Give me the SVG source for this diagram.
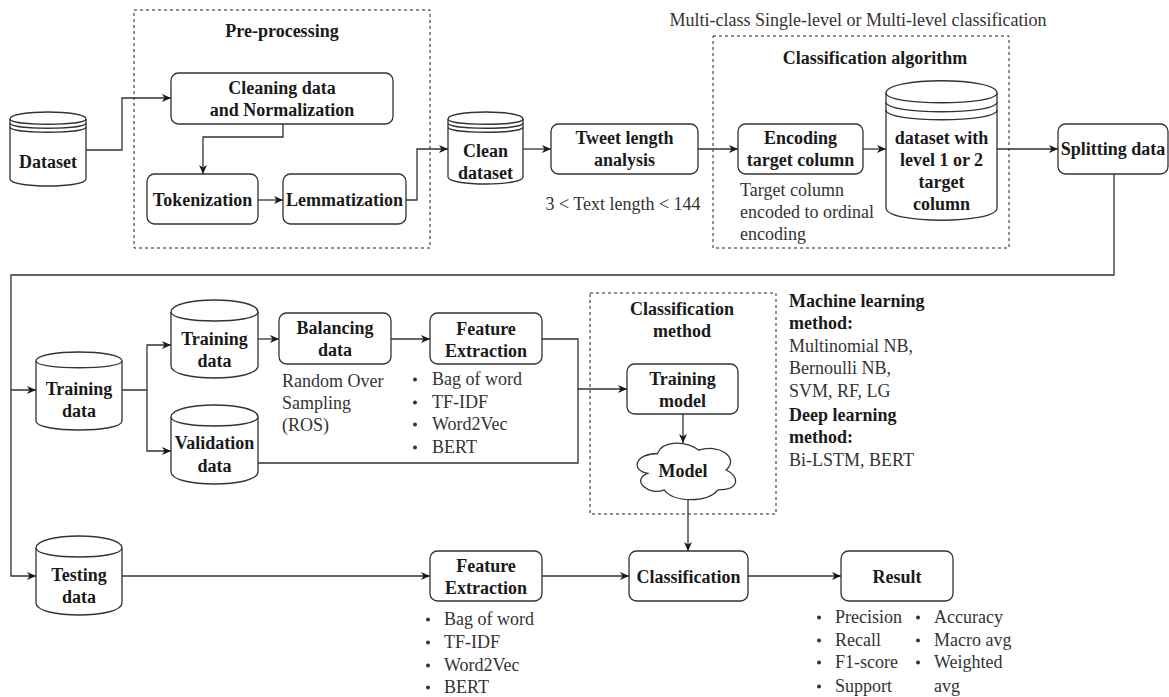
<svg xmlns="http://www.w3.org/2000/svg" width="1169" height="697" viewBox="0 0 1169 697">
<style>
text{font-family:"Liberation Serif","Times New Roman",serif;font-size:18px}
.b{font-weight:bold;fill:#1a1a1a;text-anchor:middle}
.r{fill:#333}
.c{text-anchor:middle}
.box{fill:#fff;stroke:#333;stroke-width:1.3}
.ln{fill:none;stroke:#333;stroke-width:1.3}
.dash{fill:none;stroke:#222;stroke-width:1;stroke-dasharray:3 3}
.con{fill:none;stroke:#333;stroke-width:1.3}
.dot{fill:#333}
</style>
<defs>
<marker id="arr" markerWidth="10" markerHeight="8" refX="9" refY="4" orient="auto" markerUnits="userSpaceOnUse"><path d="M0,0 L9,4 L0,8 L2.5,4 Z" fill="#1a1a1a"/></marker>
</defs>
<rect width="1169" height="697" fill="#fff"/>

<g id="preprocessing-group">
<rect class="dash" x="134" y="10" width="296" height="238"/>
<text class="b" x="282" y="37">Pre-processing</text>
</g>
<g id="classification-algorithm-group">
<rect class="dash" x="713" y="36" width="296" height="212"/>
<text class="b" x="875" y="64">Classification algorithm</text>
<text class="r c" x="858" y="26">Multi-class Single-level or Multi-level classification</text>
</g>
<g id="classification-method-group">
<rect class="dash" x="590" y="293" width="186" height="221"/>
<text class="b" x="682" y="315">Classification</text>
<text class="b" x="682" y="337">method</text>
</g>

<g id="connectors">
<path class="con" d="M86,150 H122 V98 H171" marker-end="url(#arr)"/>
<path class="con" d="M283,124 V137 H203 V174" marker-end="url(#arr)"/>
<path class="con" d="M258,200 H283" marker-end="url(#arr)"/>
<path class="con" d="M406,200 H417 V149 H448" marker-end="url(#arr)"/>
<path class="con" d="M523,149 H551" marker-end="url(#arr)"/>
<path class="con" d="M698,149 H738" marker-end="url(#arr)"/>
<path class="con" d="M863,149 H886" marker-end="url(#arr)"/>
<path class="con" d="M997,149 H1058" marker-end="url(#arr)"/>
<path class="con" d="M1114,174 V275 H11 V390 H36" marker-end="url(#arr)"/>
<path class="con" d="M11,390 V576 H36" marker-end="url(#arr)"/>
<path class="con" d="M122,390 H147 V345 H171" marker-end="url(#arr)"/>
<path class="con" d="M147,390 V451 H171" marker-end="url(#arr)"/>
<path class="con" d="M258,339 H279" marker-end="url(#arr)"/>
<path class="con" d="M391,339 H430" marker-end="url(#arr)"/>
<path class="con" d="M542,339 H578 V389 H627" marker-end="url(#arr)"/>
<path class="con" d="M258,463 H578 V389"/>
<path class="con" d="M683,414 V443" marker-end="url(#arr)"/>
<path class="con" d="M688,500 V551" marker-end="url(#arr)"/>
<path class="con" d="M122,576 H430" marker-end="url(#arr)"/>
<path class="con" d="M542,576 H629" marker-end="url(#arr)"/>
<path class="con" d="M748,576 H841" marker-end="url(#arr)"/>
</g>

<g id="dataset">
<path class="box" d="M10,119 C10,109.67 86,109.67 86,119 L86,179 C86,188.33 10,188.33 10,179 Z"/>
<path class="ln" d="M10,119 C10,126 86,126 86,119 M10,123 C10,130 86,130 86,123 M10,127 C10,134 86,134 86,127"/>
<text class="b" x="48" y="168">Dataset</text>
</g>
<g id="cleaning">
<rect class="box" x="171" y="73" width="222" height="51" rx="7.5"/>
<text class="b" x="282" y="94">Cleaning data</text>
<text class="b" x="282" y="116">and Normalization</text>
</g>
<g id="tokenization">
<rect class="box" x="147" y="174" width="111" height="50" rx="7.5"/>
<text class="b" x="202.5" y="206">Tokenization</text>
</g>
<g id="lemmatization">
<rect class="box" x="283" y="174" width="123" height="50" rx="7.5"/>
<text class="b" x="344.5" y="206">Lemmatization</text>
</g>
<g id="clean-dataset">
<path class="box" d="M448,119 C448,109.67 523,109.67 523,119 L523,177 C523,186.33 448,186.33 448,177 Z"/>
<path class="ln" d="M448,119 C448,126 523,126 523,119 M448,123 C448,130 523,130 523,123 M448,127 C448,134 523,134 523,127"/>
<text class="b" x="485.5" y="157">Clean</text>
<text class="b" x="485.5" y="179">dataset</text>
</g>
<g id="tweet-length">
<rect class="box" x="551" y="124" width="147" height="50" rx="7.5"/>
<text class="b" x="624.5" y="144">Tweet length</text>
<text class="b" x="624.5" y="166">analysis</text>
<text class="r c" x="623" y="210">3 &lt; Text length &lt; 144</text>
</g>
<g id="encoding">
<rect class="box" x="738" y="124" width="125" height="50" rx="7.5"/>
<text class="b" x="800.5" y="144">Encoding</text>
<text class="b" x="800.5" y="166">target column</text>
<text class="r" x="740" y="196">Target column</text>
<text class="r" x="740" y="218">encoded to ordinal</text>
<text class="r" x="740" y="240">encoding</text>
</g>
<g id="dataset-level">
<path class="box" d="M886,93 C886,76.67 997,76.67 997,93 L997,208 C997,224.33 886,224.33 886,208 Z"/>
<path class="ln" d="M886,93 C886,106 997,106 997,93 M886,102 C886,115 997,115 997,102 M886,110 C886,123 997,123 997,110"/>
<text class="b" x="941.5" y="144">dataset with</text>
<text class="b" x="941.5" y="166">level 1 or 2</text>
<text class="b" x="941.5" y="188">target</text>
<text class="b" x="941.5" y="210">column</text>
</g>
<g id="splitting">
<rect class="box" x="1058" y="124" width="110" height="50" rx="7.5"/>
<text class="b" x="1113" y="155">Splitting data</text>
</g>
<g id="training-data">
<path class="box" d="M36,361 C36,349 122,349 122,361 L122,421 C122,433 36,433 36,421 Z"/>
<path class="ln" d="M36,361 C36,370 122,370 122,361"/>
<text class="b" x="79" y="395">Training</text>
<text class="b" x="79" y="417">data</text>
</g>
<g id="training-data-2">
<path class="box" d="M171,312 C171,296 258,296 258,312 L258,366 C258,382 171,382 171,366 Z"/>
<path class="ln" d="M171,312 C171,324 258,324 258,312"/>
<text class="b" x="214.5" y="345">Training</text>
<text class="b" x="214.5" y="367">data</text>
</g>
<g id="validation-data">
<path class="box" d="M171,417 C171,401 258,401 258,417 L258,472 C258,488 171,488 171,472 Z"/>
<path class="ln" d="M171,417 C171,429 258,429 258,417"/>
<text class="b" x="214.5" y="449">Validation</text>
<text class="b" x="214.5" y="472">data</text>
</g>
<g id="balancing">
<rect class="box" x="279" y="313" width="112" height="51" rx="7.5"/>
<text class="b" x="335" y="334">Balancing</text>
<text class="b" x="335" y="356">data</text>
<text class="r" x="282" y="387">Random Over</text>
<text class="r" x="282" y="409">Sampling</text>
<text class="r" x="282" y="431">(ROS)</text>
</g>
<g id="feature-extraction-1">
<rect class="box" x="430" y="313" width="112" height="51" rx="7.5"/>
<text class="b" x="486" y="335">Feature</text>
<text class="b" x="486" y="357">Extraction</text>
<circle class="dot" cx="415" cy="379.5" r="2"/><text class="r" x="432" y="385">Bag of word</text>
<circle class="dot" cx="415" cy="402.5" r="2"/><text class="r" x="432" y="408">TF-IDF</text>
<circle class="dot" cx="415" cy="424.5" r="2"/><text class="r" x="432" y="430">Word2Vec</text>
<circle class="dot" cx="415" cy="447.5" r="2"/><text class="r" x="432" y="453">BERT</text>
</g>
<g id="training-model">
<rect class="box" x="627" y="364" width="111" height="50" rx="7.5"/>
<text class="b" x="682.5" y="385">Training</text>
<text class="b" x="682.5" y="407">model</text>
</g>
<g id="model">
<path class="box" d="M657.5,453.5 C635.5,453.5 630,470 647.6,473.3 C630,480.56 649.8,496.4 664.1,489.8 C674,503 707,503 718,489.8 C740,489.8 740,476.6 726.25,470 C740,456.8 718,443.6 698.75,450.2 C685,440.3 663,440.3 657.5,453.5 Z"/>
<text class="b" x="683" y="477">Model</text>
</g>
<g id="ml-methods">
<text x="789" y="307" font-weight="bold" fill="#1a1a1a">Machine learning</text>
<text x="789" y="329" font-weight="bold" fill="#1a1a1a">method:</text>
<text class="r" x="789" y="352">Multinomial NB,</text>
<text class="r" x="789" y="374">Bernoulli NB,</text>
<text class="r" x="789" y="397">SVM, RF, LG</text>
<text x="789" y="421" font-weight="bold" fill="#1a1a1a">Deep learning</text>
<text x="789" y="443" font-weight="bold" fill="#1a1a1a">method:</text>
<text class="r" x="789" y="466">Bi-LSTM, BERT</text>
</g>
<g id="testing-data">
<path class="box" d="M36,548 C36,532 122,532 122,548 L122,603 C122,619 36,619 36,603 Z"/>
<path class="ln" d="M36,548 C36,560 122,560 122,548"/>
<text class="b" x="79" y="581">Testing</text>
<text class="b" x="79" y="603">data</text>
</g>
<g id="feature-extraction-2">
<rect class="box" x="430" y="551" width="112" height="50" rx="7.5"/>
<text class="b" x="486" y="572">Feature</text>
<text class="b" x="486" y="594">Extraction</text>
<circle class="dot" cx="428" cy="619.5" r="2"/><text class="r" x="444" y="625">Bag of word</text>
<circle class="dot" cx="428" cy="642.5" r="2"/><text class="r" x="444" y="648">TF-IDF</text>
<circle class="dot" cx="428" cy="665.5" r="2"/><text class="r" x="444" y="671">Word2Vec</text>
<circle class="dot" cx="428" cy="687.5" r="2"/><text class="r" x="444" y="693">BERT</text>
</g>
<g id="classification">
<rect class="box" x="629" y="551" width="119" height="50" rx="7.5"/>
<text class="b" x="688.5" y="583">Classification</text>
</g>
<g id="result">
<rect class="box" x="841" y="551" width="112" height="50" rx="7.5"/>
<text class="b" x="897" y="583">Result</text>
<circle class="dot" cx="819" cy="617.5" r="2"/><text class="r" x="835" y="623">Precision</text>
<circle class="dot" cx="819" cy="640.5" r="2"/><text class="r" x="835" y="646">Recall</text>
<circle class="dot" cx="819" cy="662.5" r="2"/><text class="r" x="835" y="668">F1-score</text>
<circle class="dot" cx="819" cy="686.5" r="2"/><text class="r" x="835" y="692">Support</text>
<circle class="dot" cx="918" cy="617.5" r="2"/><text class="r" x="934" y="623">Accuracy</text>
<circle class="dot" cx="918" cy="640.5" r="2"/><text class="r" x="934" y="646">Macro avg</text>
<circle class="dot" cx="918" cy="662.5" r="2"/><text class="r" x="934" y="668">Weighted</text>
<text class="r" x="934" y="692">avg</text>
</g>
</svg>
